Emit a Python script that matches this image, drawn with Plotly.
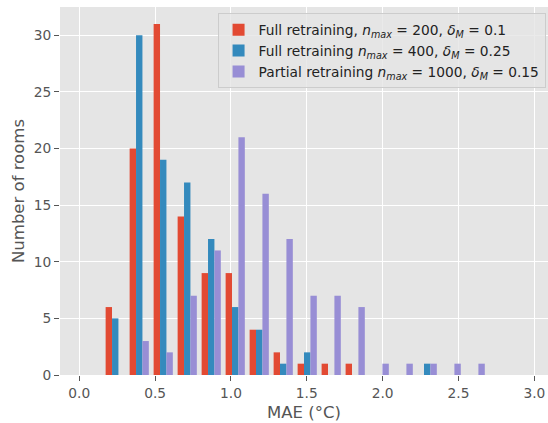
import plotly.graph_objects as go

# Histogram bin centers (MAE, °C)
bin_centers = [0.2371, 0.3953, 0.5535, 0.7117, 0.8699, 1.0281, 1.1863, 1.3445,
               1.5027, 1.6609, 1.8191, 1.9773, 2.1355, 2.2937, 2.4519, 2.6101]

full_200 = [6, 20, 31, 14, 9, 9, 4, 2, 1, 1, 1, 0, 0, 0, 0, 0]
full_400 = [5, 30, 19, 17, 12, 6, 4, 1, 2, 0, 0, 0, 0, 1, 0, 0]
partial_1000 = [0, 3, 2, 7, 11, 21, 16, 12, 7, 7, 6, 1, 1, 1, 1, 1]

names = [
    "Full retraining, <i>n</i><sub><i>max</i></sub> = 200, <i>δ</i><sub><i>M</i></sub> = 0.1",
    "Full retraining <i>n</i><sub><i>max</i></sub> = 400, <i>δ</i><sub><i>M</i></sub> = 0.25",
    "Partial retraining <i>n</i><sub><i>max</i></sub> = 1000, <i>δ</i><sub><i>M</i></sub> = 0.15",
]
colors = ["#E24A33", "#348ABD", "#988ED5"]
series = [full_200, full_400, partial_1000]

x_ticks = [0.0, 0.5, 1.0, 1.5, 2.0, 2.5, 3.0]
y_ticks = [0, 5, 10, 15, 20, 25, 30]

fig = go.Figure()
for name, vals, col in zip(names, series, colors):
    fig.add_trace(go.Bar(x=bin_centers, y=vals, name=name,
                         marker=dict(color=col, line=dict(width=0))))

font_family = "DejaVu Sans"
fig.update_layout(
    width=548, height=423,
    margin=dict(l=60, r=0, t=7, b=48),
    paper_bgcolor="white",
    plot_bgcolor="#E5E5E5",
    barmode="group", bargap=0.2, bargroupgap=0,
    font=dict(family=font_family, size=14, color="#555555"),
    showlegend=True,
    legend=dict(
        x=0.995, xanchor="right", y=0.983, yanchor="top",
        bgcolor="rgba(229,229,229,0.8)", bordercolor="#CCCCCC", borderwidth=1,
        font=dict(family=font_family, size=13.75, color="#222222"),
        tracegroupgap=2, itemwidth=30,
    ),
)
fig.update_xaxes(
    range=[-0.127, 3.09], tickvals=x_ticks, ticktext=[f"{v:.1f}" for v in x_ticks],
    showgrid=True, gridcolor="white", gridwidth=1.3, zeroline=False,
    ticks="outside", ticklen=5, tickcolor="#555555", tickwidth=1,
    tickfont=dict(size=13.75, color="#555555"),
    title=dict(text="MAE (°C)", font=dict(size=16.5, color="#555555"), standoff=6),
    showline=False,
)
fig.update_yaxes(
    range=[0, 32.5], tickvals=y_ticks,
    showgrid=True, gridcolor="white", gridwidth=1.3, zeroline=False,
    ticks="outside", ticklen=5, tickcolor="#555555", tickwidth=1,
    tickfont=dict(size=13.75, color="#555555"),
    title=dict(text="Number of rooms", font=dict(size=16.5, color="#555555"), standoff=4),
    showline=False,
)

fig.write_html(
    "out.html",
    config={"displayModeBar": False},
    post_script="document.body.style.margin='0';document.body.style.overflow='hidden';",
)
